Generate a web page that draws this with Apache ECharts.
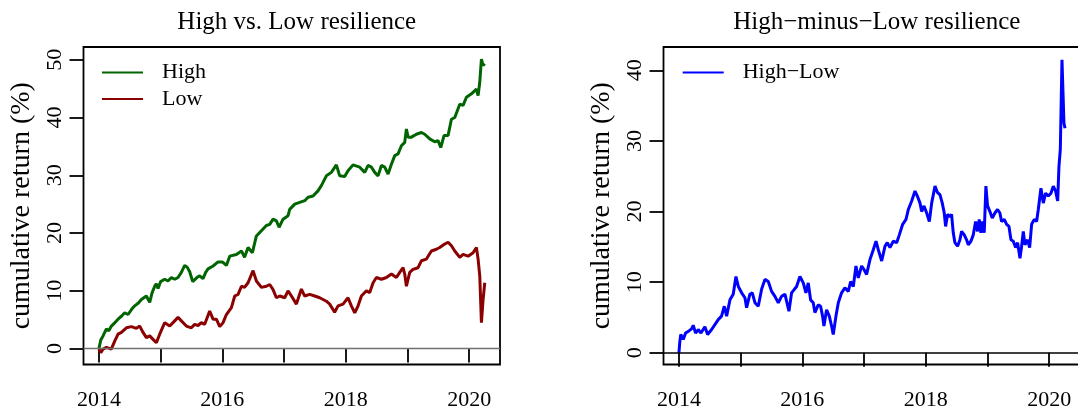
<!DOCTYPE html>
<html><head><meta charset="utf-8">
<script src="https://cdn.jsdelivr.net/npm/echarts@6/dist/echarts.min.js"></script>
<style>html,body{margin:0;padding:0;background:#fff}#c{width:1078px;height:414px}</style>
</head><body><div id="c"></div><script>
// ---- data (years, cumulative return %) ----
const highT = [2014.0,2014.03,2014.067,2014.121,2014.16,2014.202,2014.26,2014.31,2014.364,2014.418,2014.472,2014.53,2014.58,2014.64,2014.688,2014.769,2014.823,2014.86,2014.904,2014.93,2014.958,2015.0,2015.066,2015.12,2015.174,2015.23,2015.282,2015.336,2015.39,2015.43,2015.471,2015.52,2015.552,2015.6,2015.633,2015.687,2015.73,2015.768,2015.85,2015.931,2015.958,2016.0,2016.066,2016.12,2016.228,2016.31,2016.36,2016.417,2016.487,2016.552,2016.633,2016.714,2016.768,2016.822,2016.876,2016.92,2016.984,2017.065,2017.092,2017.173,2017.254,2017.335,2017.39,2017.47,2017.55,2017.605,2017.686,2017.767,2017.848,2017.902,2017.983,2018.037,2018.118,2018.146,2018.227,2018.308,2018.362,2018.416,2018.47,2018.524,2018.578,2018.632,2018.686,2018.74,2018.794,2018.848,2018.902,2018.956,2018.983,2019.01,2019.064,2019.145,2019.226,2019.28,2019.361,2019.442,2019.496,2019.54,2019.594,2019.659,2019.713,2019.767,2019.848,2019.902,2019.956,2020.037,2020.118,2020.145,2020.172,2020.199,2020.226,2020.253];
const highV = [0,1.5,2.2,3.4,3.1,3.9,4.5,5.1,5.6,6.2,5.9,6.8,7.4,7.9,8.5,9.1,8.0,9.6,10.8,11.2,10.4,11.6,12.0,11.7,12.3,12.0,12.3,13.2,14.4,14.1,13.3,11.6,11.5,12.4,12.6,12.1,13.2,13.8,14.3,15.0,15.2,15.0,14.4,16.0,16.3,16.9,15.8,17.5,16.6,19.5,20.4,21.3,21.5,22.4,22.1,21.0,22.4,23.0,24.1,25.0,25.3,25.6,26.2,26.4,27.3,28.2,29.9,30.5,31.8,29.9,29.8,30.8,31.8,31.7,31.4,30.5,31.7,31.4,30.5,29.9,31.7,31.4,30.2,31.9,33.4,33.7,35.1,35.7,38.0,36.6,36.6,37.1,37.4,37.1,36.3,35.8,36.0,34.8,36.9,36.9,39.7,40.0,42.3,42.1,43.5,44.1,44.9,43.8,46.1,50.1,49.0,49.3];
const lowT = [2014.0,2014.03,2014.067,2014.121,2014.2,2014.256,2014.31,2014.364,2014.445,2014.526,2014.607,2014.661,2014.715,2014.769,2014.823,2014.877,2014.931,2014.985,2015.066,2015.147,2015.201,2015.282,2015.336,2015.417,2015.498,2015.552,2015.606,2015.66,2015.714,2015.795,2015.849,2015.903,2015.958,2016.012,2016.066,2016.147,2016.201,2016.255,2016.31,2016.36,2016.417,2016.498,2016.552,2016.633,2016.714,2016.768,2016.822,2016.876,2016.93,2017.011,2017.065,2017.12,2017.2,2017.281,2017.335,2017.416,2017.497,2017.578,2017.686,2017.74,2017.82,2017.875,2017.956,2018.037,2018.091,2018.146,2018.2,2018.254,2018.335,2018.389,2018.443,2018.497,2018.578,2018.659,2018.74,2018.821,2018.875,2018.929,2018.956,2018.983,2019.037,2019.091,2019.172,2019.226,2019.307,2019.388,2019.469,2019.523,2019.604,2019.659,2019.713,2019.767,2019.848,2019.902,2019.983,2020.064,2020.118,2020.145,2020.172,2020.199,2020.226,2020.253];
const lowV = [-0.1,-0.7,-0.1,0.2,-0.1,1.3,2.5,2.8,3.6,3.8,3.5,3.9,2.8,1.9,2.2,1.6,1.0,2.5,4.5,3.9,4.5,5.4,4.8,3.9,3.6,4.2,4.0,4.5,4.2,6.5,5.1,5.1,3.8,4.5,5.9,7.1,9.1,9.4,10.8,10.6,11.4,13.5,11.7,10.6,10.8,11.1,10.2,8.8,9.1,8.8,10.0,9.1,7.7,10.3,9.1,9.4,9.1,8.8,8.2,7.7,6.3,7.4,7.7,8.8,7.4,6.2,7.4,9.1,10.0,9.7,11.4,12.3,12.0,12.3,12.9,12.3,13.2,14.0,12.9,10.8,13.2,13.7,14.0,15.2,15.5,16.9,17.2,17.5,18.1,18.4,17.8,16.9,15.8,16.3,16.0,16.6,17.5,15.5,12.6,4.5,8.5,11.4];
const hmlT = [2014.0,2014.016,2014.03,2014.07,2014.108,2014.162,2014.205,2014.232,2014.27,2014.313,2014.357,2014.421,2014.465,2014.53,2014.583,2014.637,2014.691,2014.735,2014.773,2014.827,2014.88,2014.924,2014.962,2015.016,2015.07,2015.097,2015.15,2015.189,2015.232,2015.286,2015.34,2015.394,2015.448,2015.502,2015.556,2015.61,2015.664,2015.718,2015.783,2015.826,2015.907,2015.961,2016.015,2016.058,2016.096,2016.134,2016.177,2016.204,2016.258,2016.296,2016.328,2016.35,2016.393,2016.437,2016.474,2016.501,2016.545,2016.583,2016.636,2016.69,2016.745,2016.783,2016.826,2016.869,2016.907,2016.961,2016.999,2017.042,2017.096,2017.15,2017.194,2017.231,2017.286,2017.34,2017.377,2017.42,2017.474,2017.529,2017.572,2017.626,2017.68,2017.718,2017.772,2017.826,2017.864,2017.907,2017.934,2017.972,2018.015,2018.058,2018.096,2018.15,2018.19,2018.23,2018.268,2018.3,2018.322,2018.354,2018.392,2018.419,2018.446,2018.473,2018.516,2018.554,2018.581,2018.624,2018.662,2018.689,2018.732,2018.77,2018.808,2018.84,2018.867,2018.894,2018.921,2018.948,2018.975,2019.002,2019.04,2019.078,2019.121,2019.164,2019.202,2019.229,2019.273,2019.311,2019.349,2019.381,2019.419,2019.457,2019.489,2019.527,2019.554,2019.581,2019.608,2019.651,2019.684,2019.716,2019.759,2019.797,2019.824,2019.867,2019.905,2019.943,2019.986,2020.029,2020.067,2020.105,2020.138,2020.159,2020.181,2020.197,2020.208,2020.224,2020.24,2020.257];
const hmlV = [0,1.7,2.6,1.9,2.8,3.1,3.4,3.9,2.8,3.3,2.8,3.7,2.6,3.3,4.0,4.7,5.2,6.6,5.2,7.5,8.3,10.8,9.4,8.5,7.8,6.4,8.3,8.5,7.1,6.6,9.0,10.4,10.1,8.7,8.0,7.1,8.0,8.3,5.9,8.5,9.4,10.8,9.9,8.5,9.9,7.5,7.1,5.7,6.8,6.6,5.2,3.8,6.1,5.2,3.8,2.6,5.2,7.1,8.5,9.2,8.7,10.1,9.4,12.3,10.6,12.3,11.8,11.1,13.2,14.6,15.8,14.6,13.0,15.1,15.6,14.9,15.8,15.6,16.7,18.2,18.9,20.3,21.5,22.9,22.2,21.2,20.0,20.8,19.8,18.6,21.2,23.6,22.7,22.4,21.2,19.8,17.9,19.6,19.3,19.6,17.0,15.6,15.1,16.0,17.2,16.7,16.0,15.3,15.8,16.7,18.6,17.2,18.9,17.0,18.6,17.0,23.6,20.8,20.0,19.1,19.8,20.3,19.8,18.6,18.9,18.2,17.9,16.0,15.8,14.9,15.6,13.4,15.1,17.2,15.3,16.0,14.9,18.2,18.9,18.6,20.3,23.3,21.2,22.6,22.2,22.6,23.6,22.9,21.5,26.4,28.8,36.3,41.5,41.3,32.5,31.8];

const xTickYears = [2014,2015,2016,2017,2018,2019,2020];
const xLabelYears = [2014,2016,2018,2020];
const yTicksLeft = [0,10,20,30,40,50];
const yTicksRight = [0,10,20,30,40];
const panelTitles = ['High vs. Low resilience', 'High\u2212minus\u2212Low resilience'];
const seriesNames = ['High', 'Low', 'High\u2212Low'];
const yAxisTitle = 'cumulative return (%)';

const zip = (t, v) => t.map((x, i) => [x, v[i]]);
const FONT = 'Liberation Serif';

function xAx(gi) {
  return {
    gridIndex: gi, type: 'value', min: 2013.75, max: 2020.5,
    axisLine: {show: false},
    axisTick: {show: true, length: 14, customValues: xTickYears, lineStyle: {color: '#000', width: 1.8}},
    axisLabel: {customValues: xLabelYears, formatter: v => String(v), fontFamily: FONT, fontSize: 22, color: '#000', margin: 25},
    splitLine: {show: false}
  };
}
function yAx(gi, min, max, ticks) {
  return {
    gridIndex: gi, type: 'value', min: min, max: max,
    axisLine: {show: false},
    axisTick: {show: true, length: 14, customValues: ticks, lineStyle: {color: '#000', width: 1.8}},
    axisLabel: {customValues: ticks, formatter: v => String(v), rotate: 90, fontFamily: FONT, fontSize: 22, color: '#000', margin: 17},
    splitLine: {show: false},
    name: yAxisTitle, nameLocation: 'middle', nameGap: 48,
    nameTextStyle: {fontFamily: FONT, fontSize: 28, color: '#000'}
  };
}
function legendCfg(names, left) {
  return {
    data: names, left: left, top: 61.5, padding: 0, orient: 'vertical', icon: 'rect',
    itemWidth: 41, itemHeight: 2, itemGap: 4.6, selectedMode: false,
    textStyle: {fontFamily: FONT, fontSize: 22, color: '#000', padding: [0, 0, 0, 14]}
  };
}
const zeroLine = (color, w) => ({silent: true, symbol: 'none', label: {show: false}, animation: false,
  lineStyle: {color: color, width: w, type: 'solid'}, data: [{yAxis: 0}]});

const chart = echarts.init(document.getElementById('c'), null, {renderer: 'canvas'});
chart.setOption({
  animation: false,
  backgroundColor: '#fff',
  title: [
    {text: panelTitles[0], left: 291.75, top: 5, textAlign: 'center', textStyle: {fontFamily: FONT, fontSize: 25, fontWeight: 'normal', color: '#000'}},
    {text: panelTitles[1], left: 871.75, top: 5, textAlign: 'center', textStyle: {fontFamily: FONT, fontSize: 25, fontWeight: 'normal', color: '#000'}}
  ],
  legend: [legendCfg([seriesNames[0], seriesNames[1]], 102), legendCfg([seriesNames[2]], 682.7)],
  grid: [
    {left: 83.5, top: 47, width: 416.5, height: 317.5, show: true, borderColor: '#000', borderWidth: 1.8, outerBoundsMode: 'none'},
    {left: 663.5, top: 47, width: 416.5, height: 317.5, show: true, borderColor: '#000', borderWidth: 1.8, outerBoundsMode: 'none'}
  ],
  xAxis: [xAx(0), xAx(1)],
  yAxis: [yAx(0, -2.75, 52.2, yTicksLeft), yAx(1, -1.65, 43.3, yTicksRight)],
  series: [
    {type: 'line', name: seriesNames[0], xAxisIndex: 0, yAxisIndex: 0, data: zip(highT, highV), symbol: 'none',
     lineStyle: {color: '#006400', width: 3}, itemStyle: {color: '#006400'}, markLine: zeroLine('#707070', 1.3)},
    {type: 'line', name: seriesNames[1], xAxisIndex: 0, yAxisIndex: 0, data: zip(lowT, lowV), symbol: 'none',
     lineStyle: {color: '#8B0000', width: 3}, itemStyle: {color: '#8B0000'}},
    {type: 'line', name: seriesNames[2], xAxisIndex: 1, yAxisIndex: 1, data: zip(hmlT, hmlV), symbol: 'none',
     lineStyle: {color: '#0000FF', width: 3}, itemStyle: {color: '#0000FF'}, markLine: zeroLine('#000', 1.5)}
  ]
});
</script></body></html>
